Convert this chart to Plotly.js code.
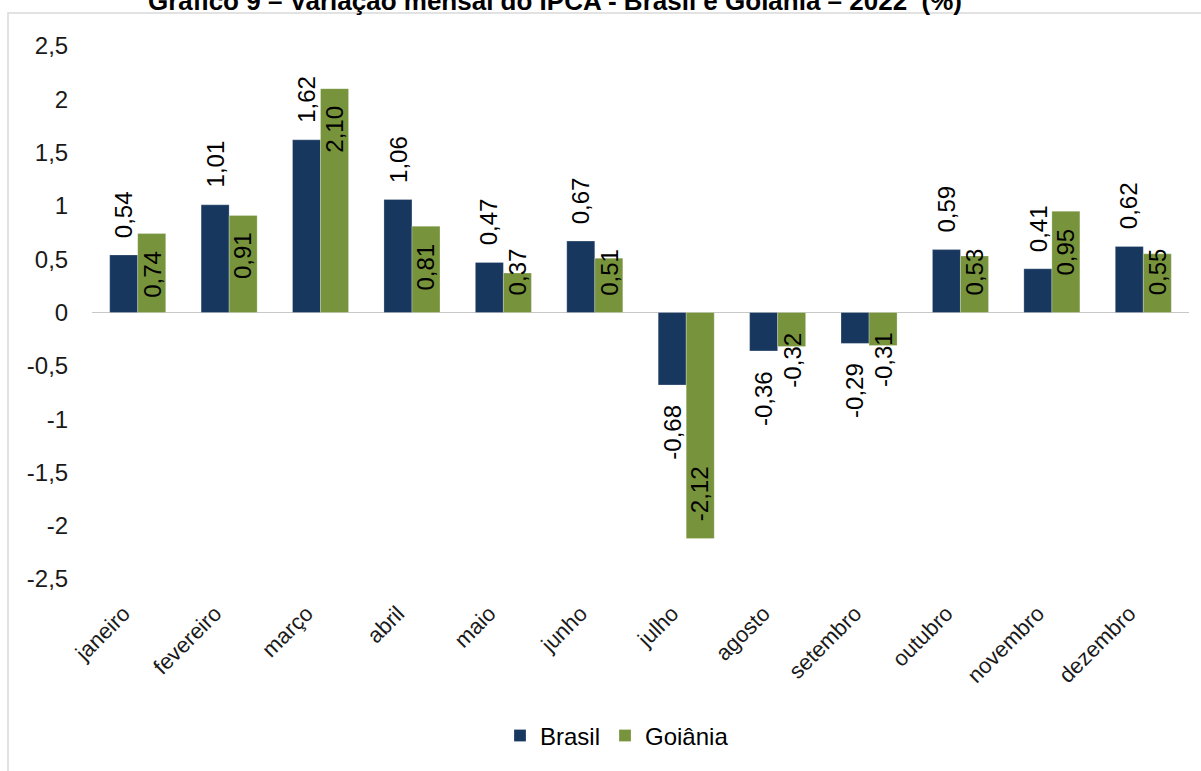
<!DOCTYPE html>
<html>
<head>
<meta charset="utf-8">
<script src="https://cdn.plot.ly/plotly-3.0.1.min.js"></script>
<style>
  html, body { margin: 0; padding: 0; background: #ffffff; }
  #chart { width: 1201px; height: 771px; }
</style>
</head>
<body>
<div id="chart"></div>
<script>
const months = ["janeiro", "fevereiro", "março", "abril", "maio", "junho",
                "julho", "agosto", "setembro", "outubro", "novembro", "dezembro"];
const brasil  = [0.54, 1.01, 1.62, 1.06, 0.47, 0.67, -0.68, -0.36, -0.29, 0.59, 0.41, 0.62];
const goiania = [0.74, 0.91, 2.10, 0.81, 0.37, 0.51, -2.12, -0.32, -0.31, 0.53, 0.95, 0.55];
const yTicks = [2.5, 2, 1.5, 1, 0.5, 0, -0.5, -1, -1.5, -2, -2.5];
const yTickText = yTicks.map(v => String(v).replace(".", ","));

const W = 1201, H = 771;
const M = { l: 92, r: 12, t: 46, b: 185 };
const yRange = [-2.5, 2.5];
const plotH = H - M.t - M.b;
const pxPerUnit = plotH / (yRange[1] - yRange[0]);

const FONT = "Liberation Sans, Arial, sans-serif";
const fmt = v => v.toFixed(2).replace(".", ",");

const annotations = [];
const barHalf = 14;
const labelLen = 48;
const gap = 15;

months.forEach((m, i) => {
  const b = brasil[i];
  annotations.push({
    x: m, y: b, xref: "x", yref: "y", text: fmt(b), showarrow: false,
    textangle: -90, xshift: -barHalf, yshift: b >= 0 ? gap : -gap - 3,
    yanchor: b >= 0 ? "bottom" : "top", xanchor: "center",
    font: { family: FONT, size: 24, color: "#000000" }
  });
  const g = goiania[i];
  const hpx = Math.abs(g) * pxPerUnit;
  const fits = hpx - gap - labelLen >= gap;
  let ann = {
    x: m, xref: "x", yref: "y", text: fmt(g), showarrow: false,
    textangle: -90, xshift: barHalf, xanchor: "center",
    font: { family: FONT, size: 24, color: "#000000" }
  };
  if (g >= 0) {
    if (fits) { ann.y = g; ann.yanchor = "top"; ann.yshift = -gap; }
    else { ann.y = 0; ann.yanchor = "bottom"; ann.yshift = gap; }
  } else {
    if (fits) { ann.y = g; ann.yanchor = "bottom"; ann.yshift = gap; }
    else { ann.y = 0; ann.yanchor = "top"; ann.yshift = -gap - 3; }
  }
  annotations.push(ann);
});

const plotW = W - M.l - M.r;
const px2paperX = px => (px - M.l) / plotW;
const px2paperY = py => (H - M.b - py) / plotH;

const data = [
  {
    type: "bar", name: "Brasil", x: months, y: brasil,
    marker: { color: "#17375E", line: { color: "rgba(255,255,255,0.5)", width: 0.5 } },
    hoverinfo: "x+y"
  },
  {
    type: "bar", name: "Goiânia", x: months, y: goiania,
    marker: { color: "#77933C", line: { color: "rgba(255,255,255,0.5)", width: 0.5 } },
    hoverinfo: "x+y"
  }
];

const layout = {
  width: W, height: H,
  margin: M,
  paper_bgcolor: "#ffffff",
  plot_bgcolor: "#ffffff",
  font: { family: FONT, color: "#000000" },
  title: {
    text: "<b>Gráfico 9 – Variação mensal do IPCA - Brasil e Goiânia – 2022  (%)</b>",
    font: { family: FONT, size: 26, color: "#000000" },
    xref: "container", yref: "container",
    x: 555 / W, xanchor: "center",
    y: 1 - 1 / H, yanchor: "middle"
  },
  barmode: "group",
  bargap: 0.387,
  bargroupgap: 0,
  xaxis: {
    type: "category",
    tickangle: -45,
    tickfont: { family: FONT, size: 22, color: "#1a1a1a" },
    showgrid: false, showline: false, zeroline: false,
    ticks: "outside", ticklen: 12, tickcolor: "rgba(0,0,0,0)",
    ticklabelshift: -14
  },
  yaxis: {
    range: yRange,
    tickvals: yTicks, ticktext: yTickText,
    tickfont: { family: FONT, size: 24, color: "#1a1a1a" },
    showgrid: false, showline: false,
    zeroline: true, zerolinecolor: "#c8c8c8", zerolinewidth: 1.5,
    ticks: "outside", ticklen: 18, tickcolor: "rgba(0,0,0,0)"
  },
  legend: {
    orientation: "h",
    x: px2paperX(617), xanchor: "center",
    y: px2paperY(745), yanchor: "middle",
    font: { family: FONT, size: 24, color: "#000000" },
    bgcolor: "rgba(0,0,0,0)"
  },
  annotations: annotations,
  shapes: [
    {
      type: "rect", xref: "paper", yref: "paper",
      x0: px2paperX(8), x1: px2paperX(1215),
      y0: px2paperY(785), y1: px2paperY(12.5),
      line: { color: "#d9d9d9", width: 1.5 },
      fillcolor: "rgba(0,0,0,0)", layer: "below"
    }
  ]
};

Plotly.newPlot("chart", data, layout, { displayModeBar: false, staticPlot: true });
</script>
</body>
</html>
